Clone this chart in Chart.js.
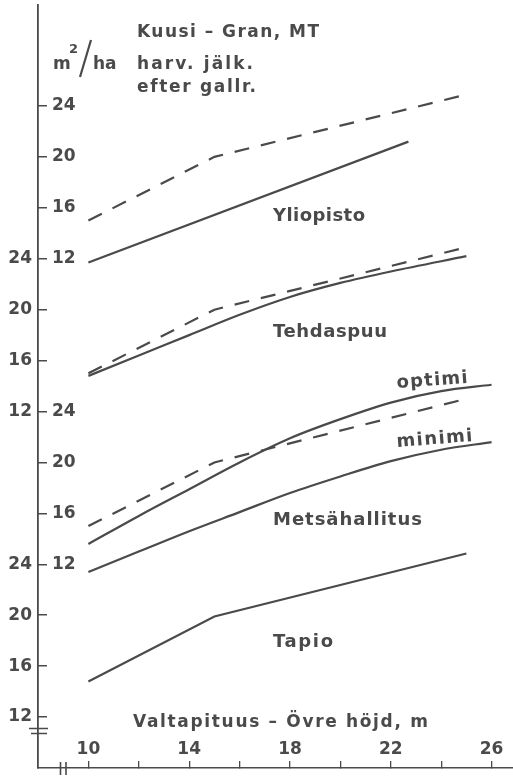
<!DOCTYPE html>
<html lang="fi">
<head>
<meta charset="UTF-8">
<title>Kuusi – Gran, MT</title>
<script src="https://cdn.jsdelivr.net/npm/chart.js"></script>
<style>
  html, body { margin: 0; padding: 0; background: #fff; }
  #wrap { width: 513px; height: 776px; }
</style>
</head>
<body>
<div id="wrap"><canvas id="chart" width="513" height="776"></canvas></div>
<script>
// basal area after thinning (m2/ha) vs dominant height (m), four stacked panels
// each panel is shifted up by its offset so they share one y scale
const panelOffsets = { yliopisto: 36, tehdaspuu: 24, metsahallitus: 12, tapio: 0 };

const yliopistoH = [10, 22.7];
const yliopistoG = [11.7, 21.2];
const yliopistoRefH = [10, 15, 25];
const yliopistoRefG = [15, 20, 24.9];

const tehdaspuuH = [10, 12, 14, 16, 18, 20, 22, 25];
const tehdaspuuG = [14.8, 16.4, 18.0, 19.6, 21.0, 22.1, 23.0, 24.2];
const tehdaspuuRefH = [10, 15, 25];
const tehdaspuuRefG = [15, 20, 24.9];

const metsaH = [10, 12, 14, 16, 18, 20, 22, 24, 26];
const metsaOptimi = [13.6, 15.8, 17.9, 20.0, 21.9, 23.4, 24.7, 25.6, 26.1];
const metsaMinimi = [11.4, 13.0, 14.6, 16.1, 17.6, 18.9, 20.1, 21.0, 21.6];
const metsaRefH = [10, 15, 25];
const metsaRefG = [15, 20, 25];

const tapioH = [10, 15, 25];
const tapioG = [14.8, 19.9, 24.85];

const xTicks = [10, 12, 14, 16, 18, 20, 22, 24, 26];
const xLabels = [10, 14, 18, 22, 26];
const yTicks = [12, 16, 20, 24, 28, 32, 36, 40, 44, 48, 52, 56, 60];

const ink = '#4a4a4a';
const tickFont = { family: 'DejaVu Sans', size: 17, weight: 'bold' };

function series(h, g, off) {
  return h.map((x, i) => ({ x: x, y: g[i] + off }));
}

// labels left of the axis belong to tapio & tehdaspuu, right of it to the other two
function leftLabel(v) {
  for (const off of [panelOffsets.tapio, panelOffsets.tehdaspuu]) {
    if (v - off >= 12 && v - off <= 24) return String(v - off);
  }
  return '';
}
function rightLabel(v) {
  for (const off of [panelOffsets.metsahallitus, panelOffsets.yliopisto]) {
    if (v - off >= 12 && v - off <= 24) return String(v - off);
  }
  return '';
}

function line(data, dashed, curved) {
  return {
    data: data,
    borderColor: ink,
    borderWidth: 2.2,
    borderDash: dashed ? [15, 12] : [],
    pointRadius: 0,
    fill: false,
    cubicInterpolationMode: curved ? 'monotone' : 'default',
    tension: 0
  };
}

// no extra room around the plot: the axes sit on the canvas edges
function noPad(s) {
  s.paddingTop = 0; s.paddingBottom = 0; s.paddingLeft = 0; s.paddingRight = 0;
}

const notes = [
  { text: 'Kuusi – Gran, MT', x: 137, y: 37, w: 182, size: 17 },
  { text: 'harv. jälk.', x: 137, y: 69, w: 116, size: 17 },
  { text: 'efter gallr.', x: 137, y: 92, w: 119, size: 17 },
  { text: 'm', x: 53, y: 69, size: 17 },
  { text: '2', x: 69, y: 53, size: 13 },
  { text: 'ha', x: 93, y: 69, size: 17 },
  { text: 'Yliopisto', x: 273, y: 221, w: 92, size: 18 },
  { text: 'Tehdaspuu', x: 273, y: 337, w: 114, size: 18 },
  { text: 'optimi', x: 397, y: 388, w: 71, size: 18, rot: -0.075 },
  { text: 'minimi', x: 397, y: 447, w: 76, size: 18, rot: -0.08 },
  { text: 'Metsähallitus', x: 273, y: 525, w: 149, size: 18 },
  { text: 'Tapio', x: 273, y: 647, w: 60, size: 18 },
  { text: 'Valtapituus – Övre höjd, m', x: 133, y: 727, w: 295, size: 17 }
];

const decor = {
  id: 'decor',
  afterDraw(chart) {
    const ctx = chart.ctx;
    ctx.save();
    ctx.fillStyle = ink;
    ctx.strokeStyle = ink;
    ctx.textBaseline = 'alphabetic';
    notes.forEach(n => {
      ctx.font = 'bold ' + n.size + 'px "DejaVu Sans"';
      ctx.letterSpacing = '0px';
      if (n.w) {
        const w = ctx.measureText(n.text).width;
        const sp = (n.w - w) / Math.max(1, n.text.length - 1);
        ctx.letterSpacing = sp.toFixed(2) + 'px';
      }
      ctx.save();
      ctx.translate(n.x, n.y);
      if (n.rot) ctx.rotate(n.rot);
      ctx.fillText(n.text, 0, 0);
      ctx.restore();
    });
    ctx.letterSpacing = '0px';
    // slash of m2/ha
    ctx.lineWidth = 2.2;
    ctx.beginPath();
    ctx.moveTo(80, 77);
    ctx.lineTo(91, 40);
    ctx.stroke();
    // axis break marks
    ctx.lineWidth = 1.6;
    ctx.beginPath();
    ctx.moveTo(29, 728.5); ctx.lineTo(48, 728.5);
    ctx.moveTo(31, 733.5); ctx.lineTo(47, 733.5);
    ctx.moveTo(60.5, 762); ctx.lineTo(60.5, 775);
    ctx.moveTo(66, 762); ctx.lineTo(66, 775);
    ctx.stroke();
    ctx.restore();
  }
};

new Chart(document.getElementById('chart'), {
  type: 'line',
  data: {
    datasets: [
      line(series(yliopistoRefH, yliopistoRefG, panelOffsets.yliopisto), true, false),
      line(series(yliopistoH, yliopistoG, panelOffsets.yliopisto), false, false),
      line(series(tehdaspuuRefH, tehdaspuuRefG, panelOffsets.tehdaspuu), true, false),
      line(series(tehdaspuuH, tehdaspuuG, panelOffsets.tehdaspuu), false, true),
      line(series(metsaRefH, metsaRefG, panelOffsets.metsahallitus), true, false),
      line(series(metsaH, metsaOptimi, panelOffsets.metsahallitus), false, true),
      line(series(metsaH, metsaMinimi, panelOffsets.metsahallitus), false, true),
      line(series(tapioH, tapioG, panelOffsets.tapio), false, false)
    ]
  },
  options: {
    responsive: false,
    animation: false,
    layout: { padding: { top: 5, left: 0, right: 0, bottom: 0 } },
    plugins: { legend: { display: false }, tooltip: { enabled: false } },
    scales: {
      x: {
        type: 'linear',
        position: 'bottom',
        min: 8,
        max: 26.85,
        afterBuildTicks: s => { s.ticks = xTicks.map(v => ({ value: v })); },
        afterFit: s => { s.height = 8; noPad(s); },
        ticks: {
          autoSkip: false,
          maxRotation: 0,
          mirror: true,
          padding: 8,
          color: ink,
          font: tickFont,
          callback: v => xLabels.includes(v) ? String(v) : ''
        },
        grid: { drawOnChartArea: false, tickLength: -7, color: ink, lineWidth: 1.3 },
        border: { color: ink, width: 1.6 }
      },
      y: {
        type: 'linear',
        position: 'left',
        weight: 1,
        min: 8,
        max: 67.93,
        afterBuildTicks: s => { s.ticks = yTicks.map(v => ({ value: v })); },
        afterFit: s => { s.width = 38; noPad(s); },
        ticks: { padding: 15, color: ink, font: tickFont, callback: v => leftLabel(v) },
        grid: { drawOnChartArea: false, tickLength: -9, color: ink, lineWidth: 1.5 },
        border: { color: ink, width: 1.8 }
      },
      y2: {
        type: 'linear',
        position: 'left',
        weight: 0,
        min: 8,
        max: 67.93,
        afterBuildTicks: s => { s.ticks = yTicks.map(v => ({ value: v })); },
        afterFit: s => { s.width = 0; noPad(s); },
        ticks: { mirror: true, padding: 14, color: ink, font: tickFont, callback: v => rightLabel(v) },
        grid: { display: false },
        border: { display: false }
      }
    }
  },
  plugins: [decor]
});
</script>
</body>
</html>
